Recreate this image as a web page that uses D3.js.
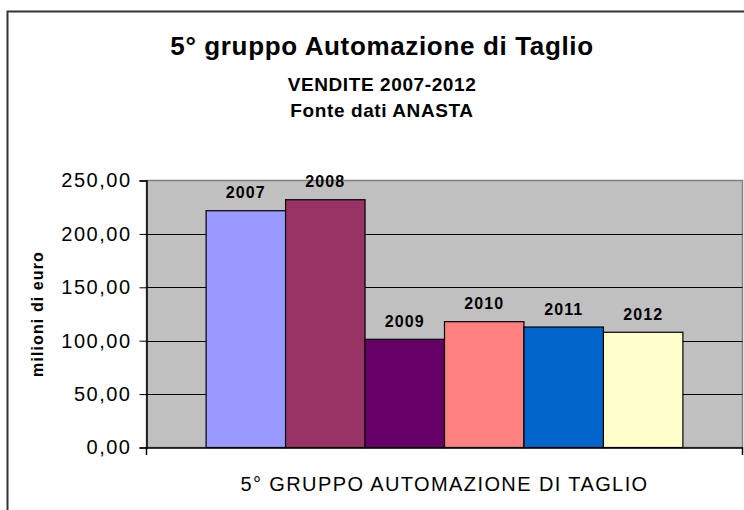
<!DOCTYPE html>
<html>
<head>
<meta charset="utf-8">
<script src="https://cdn.jsdelivr.net/npm/d3@7"></script>
<style>
  html, body { margin: 0; padding: 0; background: #fff; }
  svg { display: block; }
  text { font-family: "Liberation Sans", Arial, Helvetica, sans-serif; fill: #000; }
</style>
</head>
<body>
<svg id="chart" width="744" height="510"></svg>
<script>
const categories = ["5° GRUPPO AUTOMAZIONE DI TAGLIO"];
const years = ["2007", "2008", "2009", "2010", "2011", "2012"];
const values = [221.7, 232.0, 101.3, 117.8, 112.8, 107.9];
const colors = ["#9999FF", "#993366", "#660066", "#FF8080", "#0066CC", "#FFFFCC"];
const yTicks = [0, 50, 100, 150, 200, 250];
const titleText = "5° gruppo Automazione di Taglio";
const subtitle1 = "VENDITE 2007-2012";
const subtitle2 = "Fonte dati ANASTA";
const yAxisTitle = "milioni di euro";

const svg = d3.select("#chart");
const plot = { left: 146.5, right: 742.5, top: 180.5, bottom: 447.5 };

// outer frame
svg.append("rect")
  .attr("x", 7.5).attr("y", 11.5)
  .attr("width", 780).attr("height", 540)
  .attr("fill", "#fff").attr("stroke", "#333").attr("stroke-width", 2);

const y = d3.scaleLinear().domain([0, 250]).range([plot.bottom, plot.top]);
const x0 = d3.scaleBand().domain(categories).range([plot.left, plot.right])
  .paddingInner(0).paddingOuter(0.125);
const x1 = d3.scaleBand().domain(years).range([0, x0.bandwidth()]).padding(0);

// plot background
svg.append("rect")
  .attr("x", plot.left).attr("y", plot.top)
  .attr("width", plot.right - plot.left).attr("height", plot.bottom - plot.top)
  .attr("fill", "#C0C0C0").attr("stroke", "#808080").attr("stroke-width", 1.5);

// gridlines
svg.append("g").selectAll("line")
  .data(yTicks.filter(d => d > 0 && d < 250))
  .join("line")
  .attr("x1", plot.left).attr("x2", plot.right)
  .attr("y1", d => Math.round(y(d)) + 0.5).attr("y2", d => Math.round(y(d)) + 0.5)
  .attr("stroke", "#000").attr("stroke-width", 1);

// y axis
const fmt = d => d3.format(".2f")(d).replace(".", ",");
const yAxis = d3.axisLeft(y).tickValues(yTicks).tickFormat(fmt).tickSize(7).tickPadding(8);
const gy = svg.append("g").attr("transform", `translate(${plot.left},0)`).call(yAxis);
gy.select(".domain").attr("stroke", "#000").attr("stroke-width", 1.5);
gy.selectAll(".tick line").attr("stroke", "#000");
gy.selectAll(".tick text")
  .attr("font-size", 20).attr("letter-spacing", "1.5px")
  .attr("font-family", "'Liberation Sans', Arial, sans-serif").attr("fill", "#000");

// bars
const gBars = svg.append("g").selectAll("g")
  .data(categories).join("g")
  .attr("transform", d => `translate(${x0(d)},0)`);

gBars.selectAll("rect")
  .data(years.map((yr, i) => ({ yr, v: values[i], c: colors[i] })))
  .join("rect")
  .attr("x", d => x1(d.yr))
  .attr("y", d => y(d.v))
  .attr("width", x1.bandwidth())
  .attr("height", d => plot.bottom - y(d.v))
  .attr("fill", d => d.c)
  .attr("stroke", "#000").attr("stroke-width", 1.2);

gBars.selectAll("text.lbl")
  .data(years.map((yr, i) => ({ yr, v: values[i] })))
  .join("text").attr("class", "lbl")
  .attr("x", d => x1(d.yr) + x1.bandwidth() / 2)
  .attr("y", d => y(d.v) - 12.5)
  .attr("text-anchor", "middle")
  .attr("font-size", 16).attr("font-weight", "bold").attr("letter-spacing", "1.1px")
  .text(d => d.yr);

// x axis
const xAxis = d3.axisBottom(x0).tickSize(0).tickFormat("");
const gx = svg.append("g").attr("transform", `translate(0,${plot.bottom})`).call(xAxis);
gx.select(".domain").attr("stroke", "#000").attr("stroke-width", 1.5);
// category boundary ticks
svg.append("g").selectAll("line")
  .data([plot.left, plot.right])
  .join("line")
  .attr("x1", d => d).attr("x2", d => d)
  .attr("y1", plot.bottom).attr("y2", plot.bottom + 7.5)
  .attr("stroke", "#000").attr("stroke-width", 1.5);

svg.append("text")
  .attr("x", x0(categories[0]) + x0.bandwidth() / 2)
  .attr("y", 491)
  .attr("text-anchor", "middle")
  .attr("font-size", 20).attr("letter-spacing", "1.4px")
  .text(categories[0]);

// y axis title
svg.append("text")
  .attr("transform", `translate(43,${(plot.top + plot.bottom) / 2}) rotate(-90)`)
  .attr("text-anchor", "middle")
  .attr("font-size", 16).attr("font-weight", "bold").attr("letter-spacing", "1.1px")
  .text(yAxisTitle);

// titles
const cx = 382;
svg.append("text").attr("x", cx).attr("y", 55).attr("text-anchor", "middle")
  .attr("font-size", 26).attr("font-weight", "bold").attr("letter-spacing", "0.65px")
  .text(titleText);
svg.append("text").attr("x", cx).attr("y", 91).attr("text-anchor", "middle")
  .attr("font-size", 19).attr("font-weight", "bold").attr("letter-spacing", "0.6px")
  .text(subtitle1);
svg.append("text").attr("x", cx).attr("y", 117).attr("text-anchor", "middle")
  .attr("font-size", 19).attr("font-weight", "bold").attr("letter-spacing", "0.6px")
  .text(subtitle2);
</script>
</body>
</html>
